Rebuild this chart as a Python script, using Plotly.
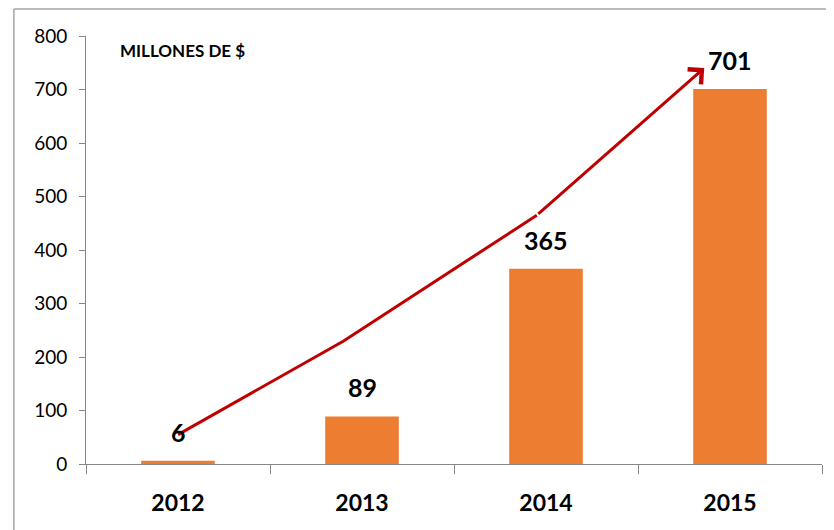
import plotly.graph_objects as go

years = ["2012", "2013", "2014", "2015"]
values = [6, 89, 365, 701]
trend_x = [0, 0.9, 1.95, 2.86]
trend_y = [55, 230, 465, 740]
y_ticks = [0, 100, 200, 300, 400, 500, 600, 700, 800]
title_text = "MILLONES DE $"

FONT = "Lato, Carlito, Calibri, 'Open Sans', sans-serif"
RED = "#C00000"
pos = list(range(len(years)))

fig = go.Figure()
fig.add_trace(go.Bar(
    x=pos, y=values, width=0.4,
    marker=dict(color="#ED7D31", line=dict(width=0)),
    hoverinfo="skip",
))
# trend line (all but last segment), last segment drawn as an arrow
fig.add_trace(go.Scatter(
    x=trend_x[:-1], y=trend_y[:-1], mode="lines",
    line=dict(color=RED, width=3),
    hoverinfo="skip", cliponaxis=False,
))
fig.add_annotation(
    x=trend_x[-1], y=trend_y[-1], xref="x", yref="y",
    ax=trend_x[-2], ay=trend_y[-2], axref="x", ayref="y",
    showarrow=True, arrowhead=4, arrowsize=1.3, arrowwidth=3,
    arrowcolor=RED, standoff=0, startstandoff=0, text="",
)
for i, v in enumerate(values):
    fig.add_annotation(x=i, y=v, text=f"<b>{v}</b>", showarrow=False,
                       yanchor="bottom", yshift=12,
                       font=dict(family=FONT, size=25, color="#000000"))

fig.add_annotation(xref="paper", yref="paper", x=0.043, y=0.967,
                   xanchor="left", yanchor="middle", showarrow=False,
                   text=f"<b>{title_text}</b>",
                   font=dict(family=FONT, size=17, color="#000000"))

# outer frame (left and top edges visible)
fig.add_shape(type="line", xref="paper", yref="paper",
              x0=-0.098, x1=-0.098, y0=-0.2, y1=1.063,
              line=dict(color="#A6A6A6", width=1.5))
fig.add_shape(type="line", xref="paper", yref="paper",
              x0=-0.098, x1=1.02, y0=1.063, y1=1.063,
              line=dict(color="#A6A6A6", width=1.5))

fig.update_layout(
    width=826, height=522,
    margin=dict(l=78, r=12, t=28, b=66, autoexpand=False),
    paper_bgcolor="white", plot_bgcolor="white",
    showlegend=False,
    font=dict(family=FONT, color="#000000"),
)
fig.update_xaxes(
    range=[-0.5, 3.5], tickmode="array", tickvals=pos,
    ticktext=[f"<b>{y}</b>" for y in years],
    ticks="", showgrid=False, zeroline=False, automargin=False,
    showline=True, linecolor="#868686", linewidth=1,
    tickfont=dict(family=FONT, size=23, color="#000000"),
    ticklabelstandoff=18,
    minor=dict(ticks="outside", tick0=-0.5, dtick=1, ticklen=9,
               tickcolor="#868686", tickwidth=1, showgrid=False),
)
fig.update_yaxes(
    range=[0, 800], tickmode="array", tickvals=y_ticks,
    ticks="outside", ticklen=6, tickcolor="#868686",
    showgrid=False, zeroline=False, automargin=False,
    showline=True, linecolor="#868686", linewidth=1,
    tickfont=dict(family=FONT, size=19, color="#000000"),
    ticklabelstandoff=8,
)

fig.write_html("out.html")
